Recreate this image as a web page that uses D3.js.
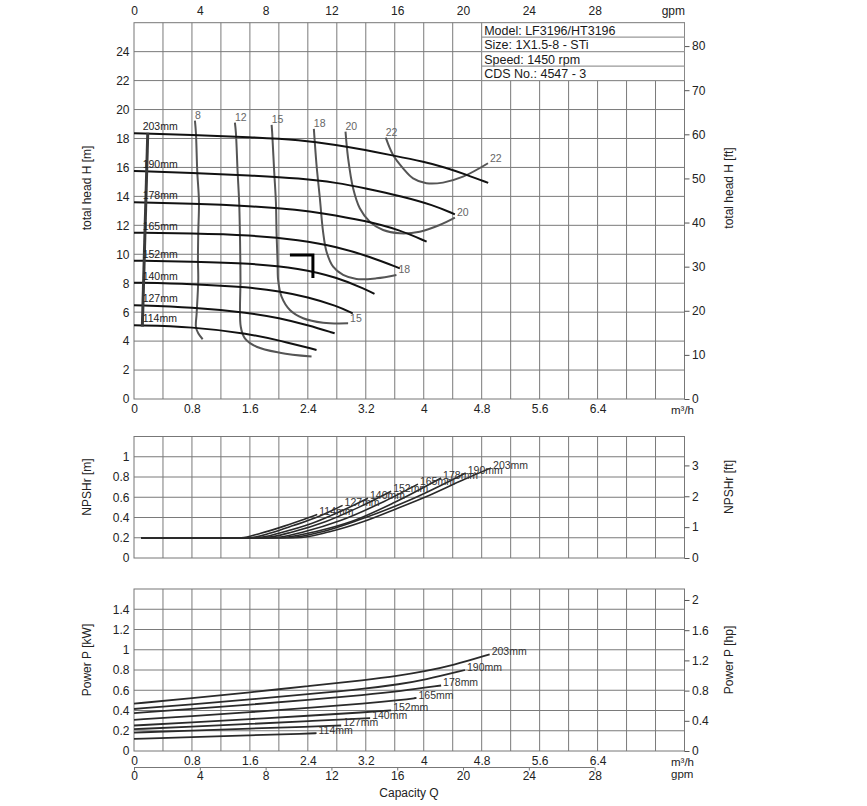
<!DOCTYPE html>
<html>
<head>
<meta charset="utf-8">
<script src="https://cdn.jsdelivr.net/npm/d3@7"></script>
<style>
  body { margin: 0; background: #fff; }
  text { font-family: "Liberation Sans", Arial, sans-serif; }
</style>
</head>
<body>
<svg id="viz"></svg>
<script>
const width = 867, height = 806;
const ff = "'Liberation Sans', Arial, sans-serif";

// ---- data ----
const impellers = ["203mm", "190mm", "178mm", "165mm", "152mm", "140mm", "127mm", "114mm"];

// head [m] vs Q [m3/h]
const headCurves = [
  [[0, 18.36], [0.8, 18.24], [1.6, 18.1], [2.3, 17.9], [2.8, 17.55], [3.2, 17.2], [3.55, 16.85], [4.0, 16.4], [4.3, 16.0], [4.59, 15.5], [4.89, 14.93]],
  [[0, 15.76], [0.8, 15.63], [1.6, 15.45], [2.3, 15.25], [2.8, 14.95], [3.2, 14.55], [3.7, 14.0], [4.13, 13.4], [4.43, 12.76]],
  [[0, 13.59], [0.8, 13.51], [1.6, 13.34], [2.29, 13.06], [2.57, 12.87], [3.21, 12.3], [3.67, 11.68], [4.04, 10.87]],
  [[0, 11.49], [0.8, 11.45], [1.6, 11.33], [2.29, 10.99], [2.8, 10.53], [3.26, 9.83], [3.67, 9.03]],
  [[0, 9.56], [0.8, 9.49], [1.6, 9.38], [2.29, 9.03], [2.8, 8.41], [3.2, 7.58], [3.32, 7.26]],
  [[0, 8.04], [0.8, 7.95], [1.6, 7.72], [2.0, 7.45], [2.4, 7.05], [2.8, 6.43], [3.02, 5.92]],
  [[0, 6.48], [0.8, 6.34], [1.6, 5.95], [2.0, 5.6], [2.4, 5.1], [2.77, 4.54]],
  [[0, 5.09], [0.8, 5.0], [1.6, 4.5], [2.0, 4.05], [2.52, 3.39]]
];

// efficiency iso-lines [%]
const effLabels = ["8", "12", "15", "18", "20", "22"];
const effEndLabel = [false, false, true, true, true, true];
const effCurves = [
  [[0.841, 19.23], [0.855, 18.38], [0.873, 15.75], [0.897, 13.61], [0.887, 11.49], [0.883, 9.54], [0.887, 8.22], [0.865, 5.92], [0.855, 4.99], [0.887, 4.54], [0.948, 4.13]],
  [[1.393, 19.09], [1.407, 18.38], [1.43, 15.75], [1.452, 13.57], [1.462, 11.49], [1.468, 9.5], [1.47, 8.2], [1.474, 4.99], [1.531, 4.19], [1.692, 3.61], [2.014, 3.2], [2.451, 2.93]],
  [[1.9, 18.94], [1.908, 18.38], [1.935, 15.75], [1.959, 13.61], [1.968, 11.49], [1.982, 9.5], [1.99, 8.22], [2.037, 7.07], [2.152, 6.15], [2.335, 5.58], [2.611, 5.27], [2.956, 5.23]],
  [[2.483, 18.66], [2.52, 16.17], [2.566, 13.87], [2.61, 11.56], [2.658, 10.18], [2.749, 9.14], [2.887, 8.57], [3.072, 8.29], [3.348, 8.34], [3.623, 8.57]],
  [[2.92, 18.47], [2.956, 16.63], [3.025, 14.56], [3.117, 13.18], [3.255, 12.25], [3.439, 11.68], [3.669, 11.45], [3.945, 11.56], [4.22, 12.02], [4.43, 12.53]],
  [[3.476, 18.06], [3.577, 16.86], [3.715, 15.94], [3.853, 15.25], [4.037, 14.91], [4.266, 14.95], [4.542, 15.36], [4.887, 16.29]]
];

const minFlowLine = [[0.19, 18.4], [0.115, 5.0]];
const dutyPoint = [2.47, 9.95];

// NPSHr [m]
const npshCurves = [
  [[0.1, 0.2], [2.24, 0.2], [2.7, 0.26], [3.16, 0.358], [3.6, 0.48], [4.08, 0.62], [4.54, 0.77], [4.93, 0.89]],
  [[0.1, 0.2], [2.12, 0.2], [2.6, 0.26], [3.1, 0.375], [3.8, 0.57], [4.58, 0.84]],
  [[0.1, 0.2], [2.0, 0.2], [2.5, 0.26], [3.0, 0.36], [3.6, 0.55], [4.24, 0.79]],
  [[0.1, 0.2], [1.9, 0.2], [2.35, 0.26], [2.85, 0.37], [3.4, 0.54], [3.92, 0.73]],
  [[0.1, 0.2], [1.78, 0.2], [2.2, 0.26], [2.65, 0.36], [3.1, 0.5], [3.55, 0.66]],
  [[0.1, 0.2], [1.68, 0.2], [2.05, 0.255], [2.45, 0.34], [2.85, 0.46], [3.23, 0.59]],
  [[0.1, 0.2], [1.58, 0.2], [1.9, 0.25], [2.2, 0.32], [2.55, 0.41], [2.88, 0.52]],
  [[0.1, 0.2], [1.48, 0.2], [1.75, 0.245], [2.01, 0.30], [2.3, 0.37], [2.53, 0.43]]
];

// power [kW]
const powerCurves = [
  [[0, 0.468], [0.8, 0.52], [1.6, 0.58], [2.4, 0.64], [3.2, 0.7], [3.67, 0.745], [4.0, 0.785], [4.4, 0.845], [4.91, 0.955]],
  [[0, 0.415], [0.8, 0.46], [1.6, 0.51], [2.4, 0.56], [3.2, 0.615], [3.67, 0.66], [4.0, 0.7], [4.57, 0.8]],
  [[0, 0.375], [0.8, 0.415], [1.6, 0.458], [2.4, 0.505], [3.2, 0.555], [3.67, 0.59], [4.24, 0.647]],
  [[0, 0.308], [0.8, 0.343], [1.6, 0.383], [2.4, 0.425], [3.2, 0.468], [3.7, 0.505], [3.9, 0.524]],
  [[0, 0.252], [0.8, 0.282], [1.6, 0.315], [2.4, 0.348], [3.2, 0.383], [3.55, 0.402]],
  [[0, 0.216], [0.8, 0.239], [1.6, 0.267], [2.4, 0.295], [3.26, 0.325]],
  [[0, 0.182], [0.8, 0.202], [1.6, 0.222], [2.4, 0.24], [2.86, 0.252]],
  [[0, 0.12], [0.8, 0.138], [1.6, 0.155], [2.4, 0.172], [2.52, 0.176]]
];

const qTicks = [0, 0.8, 1.6, 2.4, 3.2, 4, 4.8, 5.6, 6.4];
const gpmTicks = [0, 4, 8, 12, 16, 20, 24, 28];
const headTicks = [0, 2, 4, 6, 8, 10, 12, 14, 16, 18, 20, 22, 24];
const headFtTicks = [0, 10, 20, 30, 40, 50, 60, 70, 80];
const npshTicks = [0, 0.2, 0.4, 0.6, 0.8, 1];
const npshFtTicks = [0, 1, 2, 3];
const powerTicks = [0, 0.2, 0.4, 0.6, 0.8, 1, 1.2, 1.4];
const powerHpTicks = [0, 0.4, 0.8, 1.2, 1.6, 2];
const infoRows = ["Model: LF3196/HT3196", "Size: 1X1.5-8 - STi", "Speed: 1450 rpm", "CDS No.: 4547 - 3"];

// ---- scales ----
const svg = d3.select("#viz").attr("width", width).attr("height", height);
svg.append("rect").attr("width", width).attr("height", height).attr("fill", "#fff");

const x = d3.scaleLinear().domain([0, 7.6]).range([134, 684.5]);
const xGpm = d3.scaleLinear().domain([0, 7.6 / 0.22712]).range(x.range());

const yH = d3.scaleLinear().domain([0, 26]).range([399, 22.7]);
const yHft = d3.scaleLinear().domain([0, 26 / 0.3048]).range(yH.range());
const yN = d3.scaleLinear().domain([0, 1.2]).range([558, 436.5]);
const yNft = d3.scaleLinear().domain([0, 1.2 / 0.3048]).range(yN.range());
const yP = d3.scaleLinear().domain([0, 1.6]).range([751, 589]);
const yPhp = d3.scaleLinear().domain([0, 1.6 / 0.7457]).range(yP.range());

const qGrid = d3.range(1, 19).map(k => k * 0.4);

const panels = [
  {y: yH, yr: yHft, left: headTicks, right: headFtTicks, tl: "total head H [m]", tr: "total head H [ft]", tc: 188},
  {y: yN, yr: yNft, left: npshTicks, right: npshFtTicks, tl: "NPSHr [m]", tr: "NPSHr [ft]", tc: 487},
  {y: yP, yr: yPhp, left: powerTicks, right: powerHpTicks, tl: "Power P [kW]", tr: "Power P [hp]", tc: 660}
];

function styleAxis(g, size) {
  g.attr("font-family", ff).attr("font-size", size).attr("color", "#222");
  g.select(".domain").remove();
}

panels.forEach(function(p) {
  const [y0, y1] = p.y.range();
  const g = svg.append("g");

  g.selectAll(".vg").data(qGrid).enter().append("line")
    .attr("x1", d => x(d)).attr("x2", d => x(d))
    .attr("y1", y0).attr("y2", y1)
    .attr("stroke", "#7a7a7a").attr("stroke-width", 1);

  g.selectAll(".hg").data(p.left.filter(v => v > 0)).enter().append("line")
    .attr("x1", x(0)).attr("x2", x(7.6))
    .attr("y1", d => p.y(d)).attr("y2", d => p.y(d))
    .attr("stroke", "#7a7a7a").attr("stroke-width", 1);

  g.append("rect")
    .attr("x", x(0)).attr("y", y1)
    .attr("width", x(7.6) - x(0)).attr("height", y0 - y1)
    .attr("fill", "none").attr("stroke", "#777");

  g.append("g").attr("transform", "translate(" + x(0) + ",0)")
    .call(d3.axisLeft(p.y).tickValues(p.left).tickSize(0).tickPadding(4.5).tickFormat(d => d))
    .call(a => styleAxis(a, 12));

  g.append("g").attr("transform", "translate(" + x(7.6) + ",0)")
    .call(d3.axisRight(p.yr).tickValues(p.right).tickSize(5).tickPadding(2.5).tickFormat(d => d))
    .call(a => styleAxis(a, 12))
    .call(a => a.selectAll(".tick line").attr("stroke", "#555"));

  g.append("text").attr("transform", "translate(91," + p.tc + ") rotate(-90)")
    .attr("text-anchor", "middle").attr("font-size", 12).attr("fill", "#222").text(p.tl);
  g.append("text").attr("transform", "translate(733," + p.tc + ") rotate(-90)")
    .attr("text-anchor", "middle").attr("font-size", 12).attr("fill", "#222").text(p.tr);
});

// ---- x axes ----
svg.append("g").attr("transform", "translate(0," + yH(26) + ")")
  .call(d3.axisTop(xGpm).tickValues(gpmTicks).tickSize(0).tickPadding(7.5).tickFormat(d => d))
  .call(a => styleAxis(a, 12));
svg.append("text").attr("x", 685).attr("y", 14.5).attr("text-anchor", "end")
  .attr("font-size", 12).attr("fill", "#222").text("gpm");

[yH, yP].forEach(function(ys) {
  svg.append("g").attr("transform", "translate(0," + ys(0) + ")")
    .call(d3.axisBottom(x).tickValues(qTicks).tickSize(0).tickPadding(5.5).tickFormat(d => d))
    .call(a => styleAxis(a, 12));
  svg.append("text").attr("x", 671).attr("y", ys(0) + 14.5)
    .attr("font-size", 11.5).attr("fill", "#222").text("m³/h");
});

const gpmLineY = 767.5;
svg.append("line").attr("x1", xGpm(0)).attr("x2", xGpm(28))
  .attr("y1", gpmLineY).attr("y2", gpmLineY).attr("stroke", "#777");
svg.append("g").attr("transform", "translate(0," + gpmLineY + ")")
  .call(d3.axisBottom(xGpm).tickValues(gpmTicks).tickSize(3).tickPadding(0.5).tickFormat(d => d))
  .call(a => styleAxis(a, 12))
  .call(a => a.selectAll(".tick line").attr("stroke", "#777"));
svg.append("text").attr("x", 671).attr("y", 777.5)
  .attr("font-size", 11.5).attr("fill", "#222").text("gpm");
svg.append("text").attr("x", 409).attr("y", 797).attr("text-anchor", "middle")
  .attr("font-size", 12).attr("fill", "#222").text("Capacity Q");

// ---- info box ----
const box = svg.append("g");
box.append("rect")
  .attr("x", x(4.8)).attr("y", yH(26))
  .attr("width", x(7.6) - x(4.8)).attr("height", yH(22) - yH(26))
  .attr("fill", "#fff").attr("stroke", "#888");
infoRows.forEach(function(t, i) {
  if (i > 0) {
    box.append("line").attr("x1", x(4.8)).attr("x2", x(7.6))
      .attr("y1", yH(26 - i)).attr("y2", yH(26 - i))
      .attr("stroke", "#999").attr("stroke-width", 1.4);
  }
  box.append("text").attr("x", x(4.8) + 2.5).attr("y", yH(25 - i) - 2.5)
    .attr("font-size", 12.5).attr("fill", "#1a1a1a").text(t);
});

// ---- head chart ----
const lineH = d3.line().x(d => x(d[0])).y(d => yH(d[1])).curve(d3.curveBasis);
const lineE = d3.line().x(d => x(d[0])).y(d => yH(d[1])).curve(d3.curveCatmullRom.alpha(0.5));

svg.append("g").selectAll("path").data(effCurves).enter().append("path")
  .attr("d", lineE).attr("fill", "none")
  .attr("stroke", "#555").attr("stroke-width", 2);

svg.append("g").selectAll("path").data(headCurves).enter().append("path")
  .attr("d", lineH).attr("fill", "none")
  .attr("stroke", "#111").attr("stroke-width", 2);

svg.append("path").attr("d", d3.line().x(d => x(d[0])).y(d => yH(d[1]))(minFlowLine))
  .attr("stroke", "#3a3a3a").attr("stroke-width", 3).attr("fill", "none");

svg.append("g").selectAll("text").data(headCurves).enter().append("text")
  .attr("x", x(0.12)).attr("y", d => yH(d[0][1]) - 3)
  .attr("font-size", 10.5).attr("fill", "#222")
  .text((d, i) => impellers[i]);

const effG = svg.append("g").attr("font-size", 10.5).attr("fill", "#666");
effCurves.forEach(function(c, i) {
  const a = c[0], b = c[c.length - 1];
  effG.append("text").attr("x", x(a[0])).attr("y", yH(a[1]) - 2).text(effLabels[i]);
  if (effEndLabel[i]) {
    effG.append("text").attr("x", x(b[0]) + 2).attr("y", yH(b[1]) - 1.5).text(effLabels[i]);
  }
});

const dp = [x(dutyPoint[0]), yH(dutyPoint[1])];
svg.append("path")
  .attr("d", "M" + (dp[0] - 23) + "," + dp[1] + "H" + dp[0] + "V" + (dp[1] + 23))
  .attr("fill", "none").attr("stroke", "#000").attr("stroke-width", 3);

// ---- NPSH chart ----
const lineN = d3.line().x(d => x(d[0])).y(d => yN(d[1])).curve(d3.curveMonotoneX);
svg.append("g").selectAll("path").data(npshCurves).enter().append("path")
  .attr("d", lineN).attr("fill", "none")
  .attr("stroke", "#2a2a2a").attr("stroke-width", 1.6);
svg.append("g").selectAll("text").data(npshCurves).enter().append("text")
  .attr("x", d => x(d[d.length - 1][0]) + 2).attr("y", d => yN(d[d.length - 1][1]) + 1)
  .attr("font-size", 10.5).attr("fill", "#333")
  .text((d, i) => impellers[i]);

// ---- power chart ----
const lineP = d3.line().x(d => x(d[0])).y(d => yP(d[1])).curve(d3.curveBasis);
svg.append("g").selectAll("path").data(powerCurves).enter().append("path")
  .attr("d", lineP).attr("fill", "none")
  .attr("stroke", "#2a2a2a").attr("stroke-width", 1.8);
svg.append("g").selectAll("text").data(powerCurves).enter().append("text")
  .attr("x", d => x(d[d.length - 1][0]) + 2).attr("y", d => yP(d[d.length - 1][1]) + 1)
  .attr("font-size", 10.5).attr("fill", "#333")
  .text((d, i) => impellers[i]);
</script>
</body>
</html>
